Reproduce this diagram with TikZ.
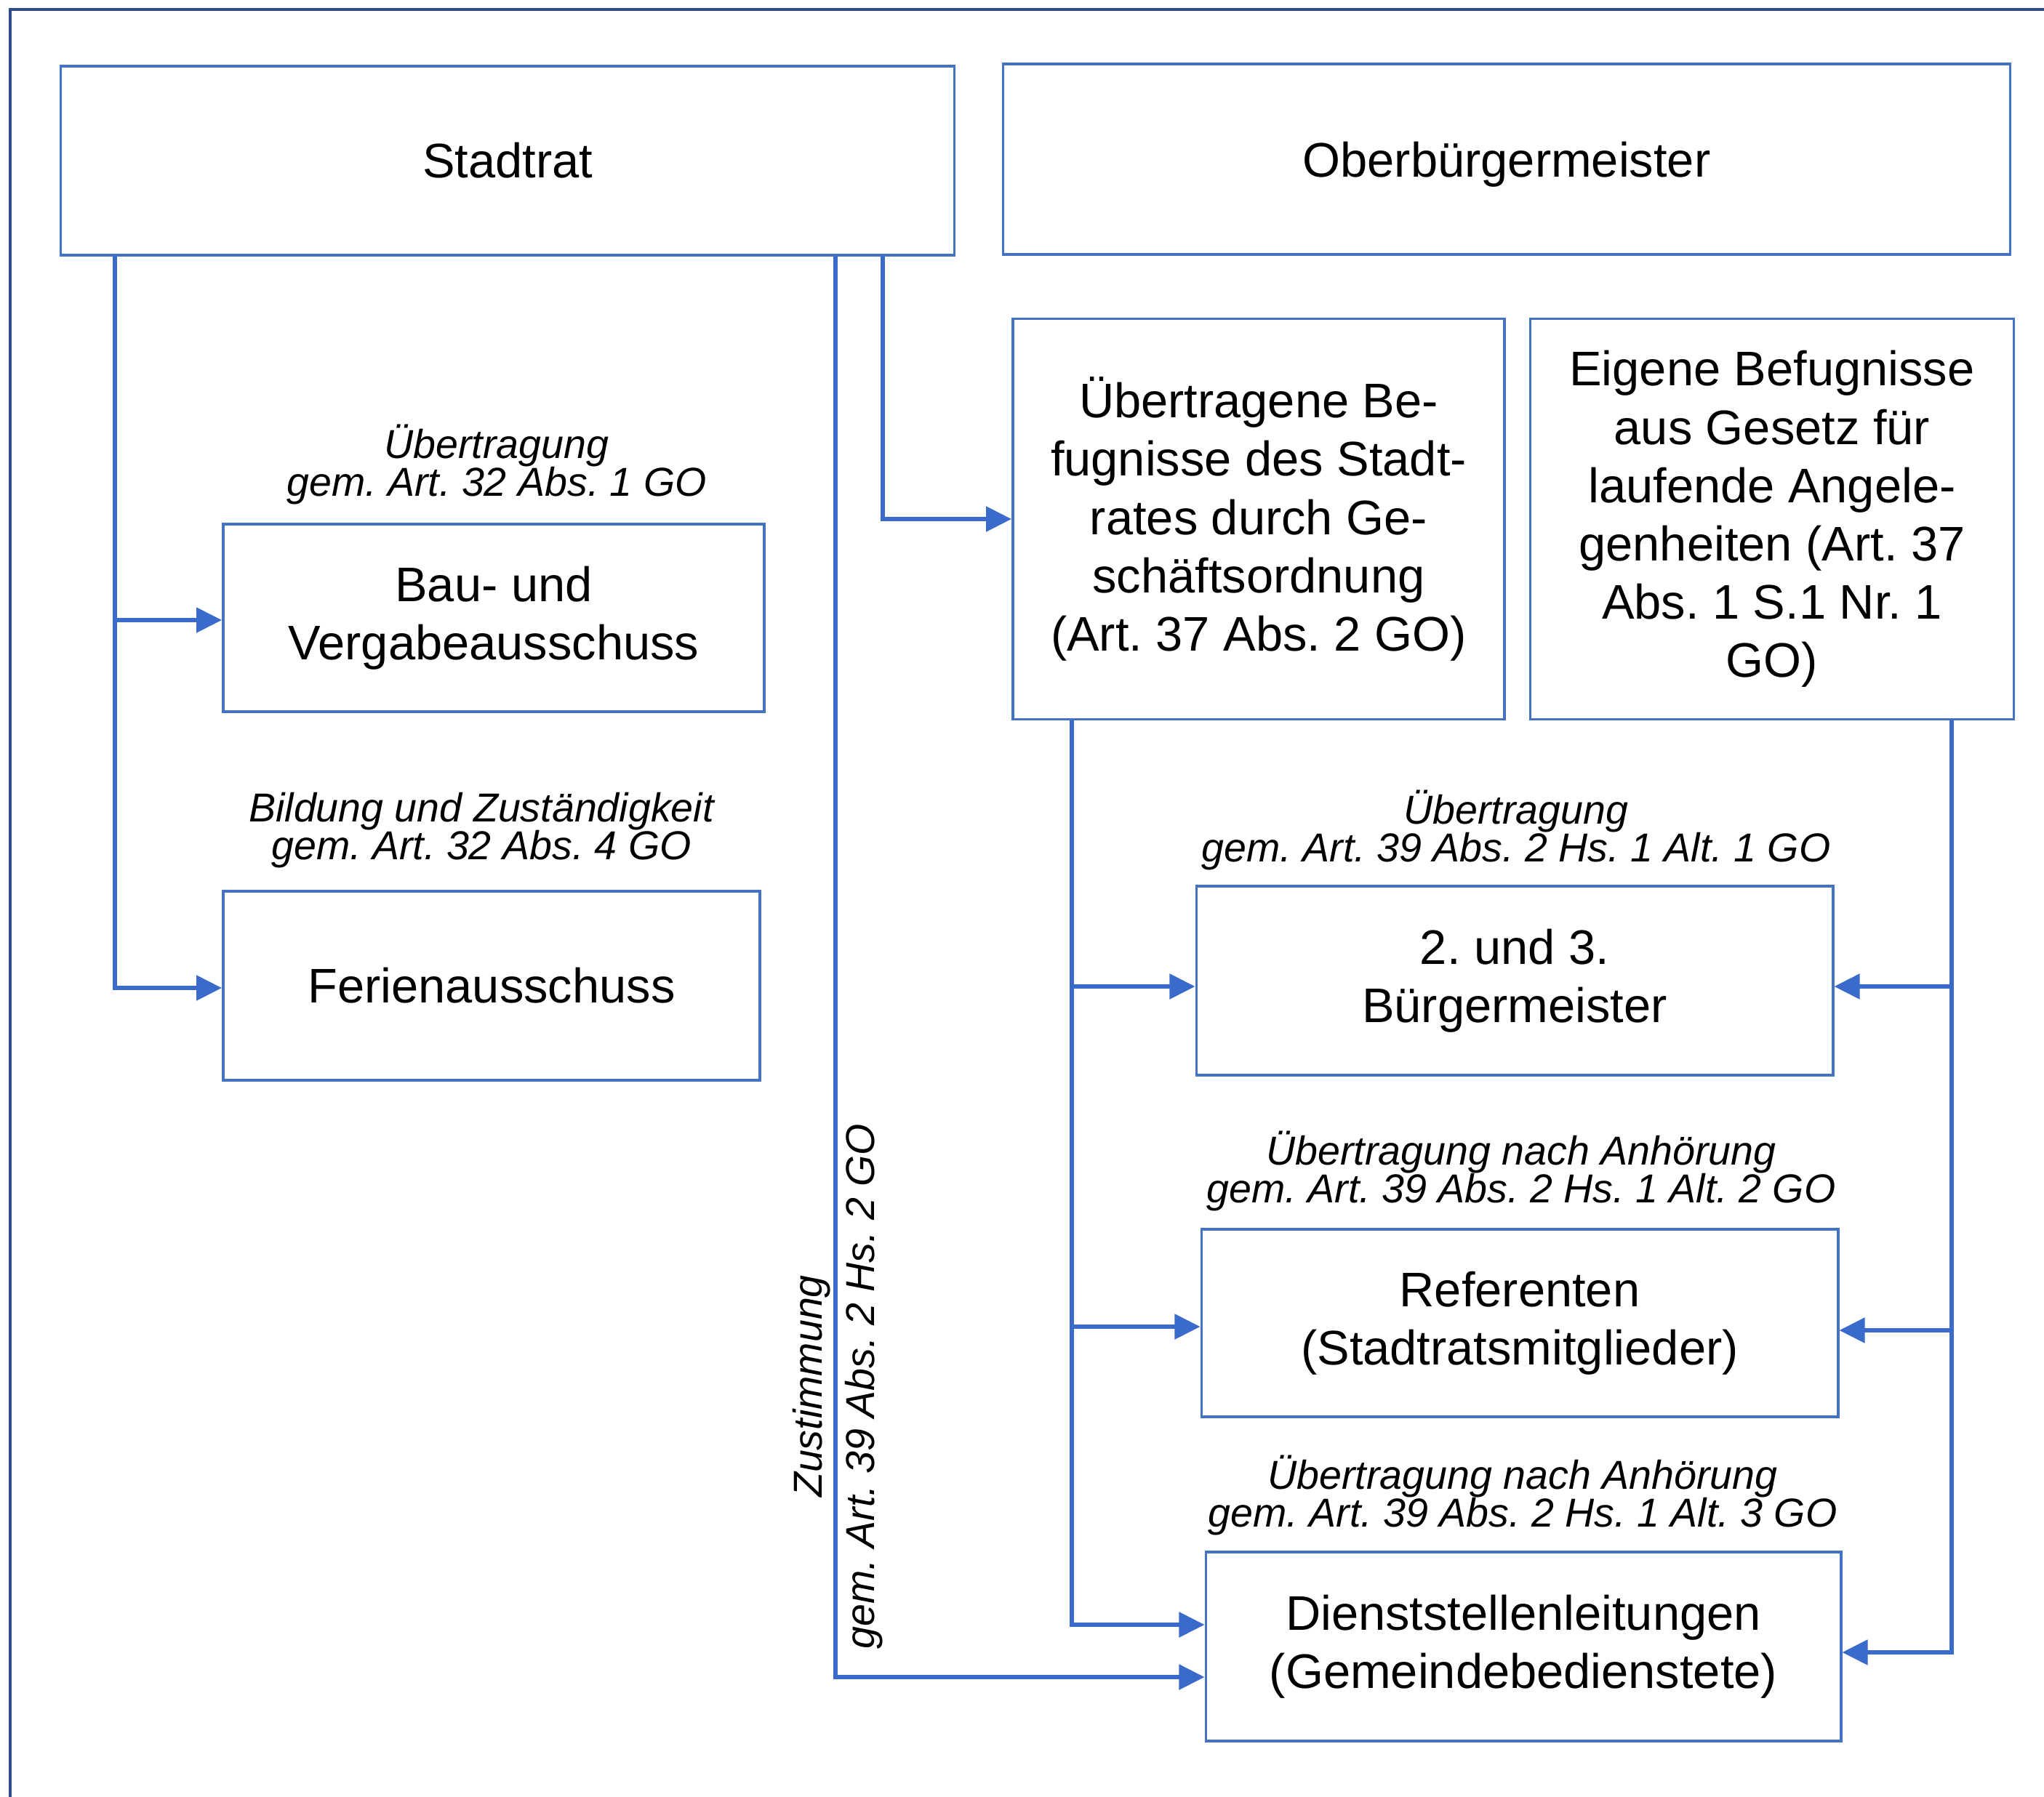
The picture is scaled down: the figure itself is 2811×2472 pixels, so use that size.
\documentclass[tikz,border=0pt]{standalone}
\usepackage{fontspec}
\setmainfont{Liberation Sans}
\usetikzlibrary{positioning,arrows.meta}
\definecolor{frameblue}{HTML}{2F4D8A}
\definecolor{boxblue}{HTML}{4472C4}
\definecolor{wireblue}{HTML}{3B6BCA}
\newcommand\notefont{\itshape\fontsize{15.8}{15}\selectfont\lineskiplimit=-20pt\relax}
\frenchspacing

\begin{document}
\begin{tikzpicture}[
  x=0.01cm, y=-0.01cm,
  >={Triangle[length=3.5mm,width=3.4mm]},
  box/.style={draw=boxblue, fill=white, line width=1pt,
              inner sep=0pt, align=center,
              font=\fontsize{19}{22.8}\selectfont},
  flow/.style={->, line width=1.5pt, draw=wireblue},
  lab/.style={align=center, inner sep=0pt, font=\notefont},
  frame/.style={line width=1.4pt, draw=frameblue},
]
\useasboundingbox (0,0) rectangle (2811,2472);
\draw[frame] (14,2472) -- (14,13) -- (2811,13);

% upper row
\node[box, minimum width=12.28cm, minimum height=2.60cm] (rat) at (698,221) {Stadtrat};
\node[box, minimum width=13.84cm, minimum height=2.62cm, text depth=0pt] (obm) at (2072,219) {Oberbürgermeister};

\node[box, minimum width=6.76cm, minimum height=5.51cm] (ueb) at (1731,714)
  {Übertragene Be-\\ fugnisse des Stadt-\\ rates durch Ge-\\ schäftsordnung\\ (Art. 37 Abs. 2 GO)};
\node[box, minimum width=6.65cm, minimum height=5.51cm] (eig) at (2437,714)
  {Eigene Befugnisse\\ aus Gesetz für\\ laufende Angele-\\ genheiten (Art. 37\\ Abs. 1 S.1 Nr. 1\\ GO)};

% committees
\node[box, minimum width=7.44cm, minimum height=2.58cm] (bau) at (679,850) {Bau- und\\ Vergabeausschuss};
\node[box, minimum width=7.38cm, minimum height=2.60cm] (fer) at (676,1356) {Ferienausschuss};

% delegates
\node[box, minimum width=8.75cm, minimum height=2.60cm] (bgm) at (2083,1349) {2. und 3.\\ Bürgermeister};
\node[box, minimum width=8.75cm, minimum height=2.58cm] (ref) at (2090,1820) {Referenten\\ (Stadtratsmitglieder)};
\node[box, minimum width=8.73cm, minimum height=2.60cm] (dst) at (2095,2265) {Dienststellenleitungen\\ (Gemeindebedienstete)};

% legal notes
\node[lab] (nbau) at (683,639) {Übertragung\\ gem. Art. 32 Abs. 1 GO};
\node[lab] (nfer) at (662,1142) {Bildung und Zuständigkeit\\ gem. Art. 32 Abs. 4 GO};
\node[lab] (nbgm) at (2085,1142) {Übertragung\\ gem. Art. 39 Abs. 2 Hs. 1 Alt. 1 GO};
\node[lab] (nref) at (2092,1611) {Übertragung nach Anhörung\\ gem. Art. 39 Abs. 2 Hs. 1 Alt. 2 GO};
\node[lab] (ndst) at (2094,2057) {Übertragung nach Anhörung\\ gem. Art. 39 Abs. 2 Hs. 1 Alt. 3 GO};
\node[lab, rotate=90, font=\itshape\fontsize{15.8}{20.5}\selectfont] (nzus) at (1152,1907)
  {Zustimmung\\ gem. Art. 39 Abs. 2 Hs. 2 GO};

\coordinate (ratL) at (rat.south -| 158,0);
\coordinate (ratM) at (rat.south -| 1149,0);
\coordinate (ratR) at (rat.south -| 1214,0);
\coordinate (uebL) at (ueb.south -| 1474,0);
\coordinate (eigR) at (eig.south -| 2684,0);

\draw[flow] (ratL) |- ([yshift=-0.3mm]bau.west);
\draw[flow] (ratL) |- ([yshift=-0.3mm]fer.west);
\draw[flow] (ratR) |- (ueb.west);
\draw[flow] (ratM) |- ([yshift=-4.2mm]dst.west);

\draw[flow] (uebL) |- ([yshift=-0.8mm]bgm.west);
\draw[flow] (uebL) |- ([yshift=-0.5mm]ref.west);
\draw[flow] (uebL) |- ([yshift=3mm]dst.west);

\draw[flow] (eigR) |- ([yshift=-0.8mm]bgm.east);
\draw[flow] (eigR) |- ([yshift=-1mm]ref.east);
\draw[flow] (eigR) |- ([yshift=-0.8mm]dst.east);
\end{tikzpicture}
\end{document}
